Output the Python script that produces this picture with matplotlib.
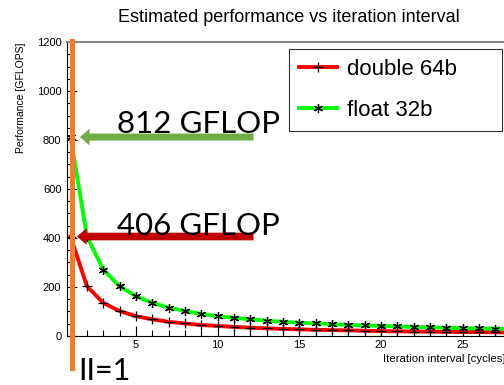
import matplotlib.pyplot as plt
from matplotlib.ticker import MultipleLocator

# values (GFLOPS per iteration interval)
interval = [1, 2, 3, 4, 5, 6, 7, 8, 9, 10, 11, 12, 13, 14,
            15, 16, 17, 18, 19, 20, 21, 22, 23, 24, 25, 26, 27, 28]
float32 = [812, 406, 271, 203, 162, 135, 116, 102, 90, 81, 74, 68, 62, 58,
           54, 51, 48, 45, 43, 41, 39, 37, 35, 34, 32, 31, 30, 29]
double64 = [406, 203, 135, 102, 81, 68, 58, 51, 45, 41, 37, 34, 31, 29,
            27, 25, 24, 23, 21, 20, 19, 18, 18, 17, 16, 16, 15, 15]
labels = ["double 64b", "float 32b"]
peaks = [812, 406]

plt.rcParams['font.family'] = ['Liberation Sans', 'DejaVu Sans']

fig = plt.figure(figsize=(5.04, 3.85), dpi=100)
ax = fig.add_axes([0.1329, 0.1273, 0.9145, 0.7636])

ax.plot(interval, double64, color='#ff0000', lw=2.8, marker='+',
        ms=6.5, mec='black', mew=0.9, label=labels[0], zorder=3)
ax.plot(interval, float32, color='#00ff00', lw=2.8, marker=(6, 2, 0),
        ms=6.5, mec='black', mew=0.9, label=labels[1], zorder=3)

ax.set_xlim(0.78, 29)
ax.set_ylim(0, 1200)
ax.xaxis.set_major_locator(MultipleLocator(5))
ax.xaxis.set_minor_locator(MultipleLocator(1))
ax.yaxis.set_major_locator(MultipleLocator(200))
ax.yaxis.set_minor_locator(MultipleLocator(50))
ax.tick_params(which='both', direction='in', labelsize=8, width=0.8)
ax.tick_params(which='major', length=7)
ax.tick_params(which='minor', length=4)
ax.tick_params(axis='y', pad=4)
ax.tick_params(axis='x', pad=3)
ax.spines['right'].set_visible(False)
ax.spines['top'].set_color('#888888')
ax.spines['top'].set_linewidth(1.5)

ax.set_ylabel("Performance [GFLOPS]", fontsize=7.5, loc='top')
ax.yaxis.set_label_coords(-0.088, 1.0)
ax.set_xlabel("Iteration interval [cycles]", fontsize=8.2)
ax.xaxis.label.set_ha('left')
ax.xaxis.set_label_coords(0.686, -0.06)

fig.text(0.573, 0.944, "Estimated performance vs iteration interval",
         fontsize=13, ha='center', va='baseline')

leg = ax.legend(loc='upper left',
                bbox_to_anchor=(289 / 504, 1 - 127 / 385, 213 / 504, 78 / 385),
                bbox_transform=fig.transFigure, borderaxespad=0, mode='expand',
                fontsize=16, fancybox=False, edgecolor='black',
                handlelength=1.7, handletextpad=0.45, labelspacing=0.9,
                borderpad=0.45)
leg.get_frame().set_linewidth(0.8)

# orange II=1 marker line
ax.axvline(1.11, ymin=-0.11, ymax=1.005, color='#ed7d31', lw=3.6,
           clip_on=False, zorder=5)
ax.text(1.45, -180, "II=1", fontsize=22, family='Lato', va='baseline')

# annotation arrows
ax.annotate("", xy=(1.57, peaks[0]), xytext=(12.2, peaks[0]),
            arrowprops=dict(width=5, headwidth=12, headlength=7,
                            shrink=0, color='#70ad47', lw=0), zorder=6)
ax.annotate("", xy=(1.39, peaks[1]), xytext=(12.2, peaks[1]),
            arrowprops=dict(width=5.5, headwidth=12, headlength=7,
                            shrink=0, color='#c00000', lw=0), zorder=6)
ax.text(3.84, 829, "812 GFLOP", fontsize=22.5, family='Lato',
        va='baseline', zorder=7)
ax.text(3.84, 412, "406 GFLOP", fontsize=22.5, family='Lato',
        va='baseline', zorder=7)

fig.savefig("out.png", dpi=100)
